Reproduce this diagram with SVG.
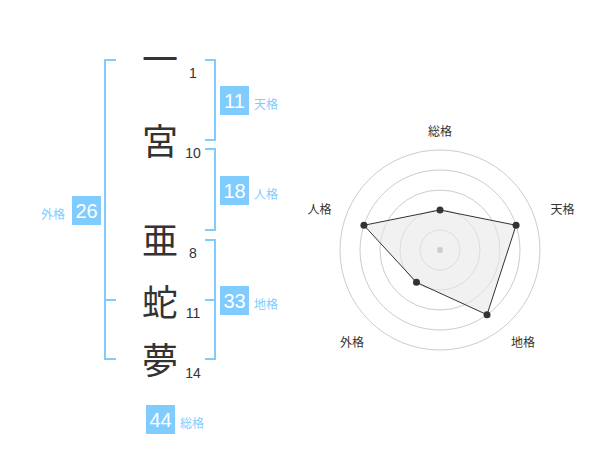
<svg xmlns="http://www.w3.org/2000/svg" width="600" height="470" viewBox="0 0 600 470">
<style>
.ch{font-family:"Noto Sans CJK JP","Noto Sans",sans-serif;font-size:36px;fill:#333;text-anchor:middle}
.num{font-family:"Liberation Sans",Arial,sans-serif;font-size:14px;fill:#333;text-anchor:middle}
.box{fill:#80ccff}
.bt{font-family:"Liberation Sans",Arial,sans-serif;font-size:20px;fill:#fff;text-anchor:middle}
.lb{font-family:"Noto Sans CJK JP","Noto Sans",sans-serif;font-size:12px;fill:#80ccff}
.br{fill:none;stroke:#80ccff;stroke-width:2}
.ring{fill:none;stroke:#cccccc;stroke-width:1}
.rl{font-family:"Noto Sans CJK JP","Noto Sans",sans-serif;font-size:12px;fill:#333;text-anchor:middle}
.pt{fill:#333}
</style>
<rect width="600" height="470" fill="#fff"/>
<g id="connectors">
<path class="br" d="M116,60 H105 V359 H116 M105,300 H116"/>
<path class="br" d="M205,60 H215 V140 H205"/>
<path class="br" d="M205,149 H215 V230 H205"/>
<path class="br" d="M205,240 H215 V359 H205 M215,300 H205"/>
</g>
<g id="char1"><text class="ch" x="160" y="72.5">一</text><text class="num" x="193" y="78">1</text></g>
<g id="char2"><text class="ch" x="160" y="155">宮</text><text class="num" x="193" y="158">10</text></g>
<g id="char3"><text class="ch" x="160" y="253.5">亜</text><text class="num" x="193" y="257.5">8</text></g>
<g id="char4"><text class="ch" x="160" y="316">蛇</text><text class="num" x="193" y="318">11</text></g>
<g id="char5"><text class="ch" x="160" y="374">夢</text><text class="num" x="193" y="378">14</text></g>
<g id="tenkaku"><rect class="box" x="220" y="86" width="29" height="29"/><text class="bt" x="234.5" y="108">11</text><text class="lb" x="254" y="108.5">天格</text></g>
<g id="jinkaku"><rect class="box" x="220" y="176" width="29" height="29"/><text class="bt" x="234.5" y="198">18</text><text class="lb" x="254" y="198.5">人格</text></g>
<g id="chikaku"><rect class="box" x="220" y="286" width="29" height="29"/><text class="bt" x="234.5" y="308">33</text><text class="lb" x="254" y="308.5">地格</text></g>
<g id="gaikaku"><rect class="box" x="72" y="196" width="29" height="29"/><text class="bt" x="86.5" y="218">26</text><text class="lb" x="41" y="218.5">外格</text></g>
<g id="soukaku"><rect class="box" x="146" y="405" width="29" height="29"/><text class="bt" x="160.5" y="427">44</text><text class="lb" x="180" y="427.5">総格</text></g>
<g id="radar">
<circle class="ring" cx="440" cy="250" r="20"/>
<circle class="ring" cx="440" cy="250" r="40"/>
<circle class="ring" cx="440" cy="250" r="60"/>
<circle class="ring" cx="440" cy="250" r="80"/>
<circle class="ring" cx="440" cy="250" r="100"/>
<polygon points="440,210 516.08,225.28 487.02,314.72 416.49,282.36 363.92,225.28" fill="#e8e8e8" fill-opacity="0.6" stroke="#333" stroke-width="1"/>
<circle cx="440" cy="250" r="3" fill="#cccccc"/>
<circle class="pt" cx="440" cy="210" r="3.5"/>
<circle class="pt" cx="516.08" cy="225.28" r="3.5"/>
<circle class="pt" cx="487.02" cy="314.72" r="3.5"/>
<circle class="pt" cx="416.49" cy="282.36" r="3.5"/>
<circle class="pt" cx="363.92" cy="225.28" r="3.5"/>
<text class="rl" x="440" y="136">総格</text>
<text class="rl" x="562.5" y="213.5">天格</text>
<text class="rl" x="319.5" y="213.5">人格</text>
<text class="rl" x="523" y="346.5">地格</text>
<text class="rl" x="352" y="346.5">外格</text>
</g>
</svg>
